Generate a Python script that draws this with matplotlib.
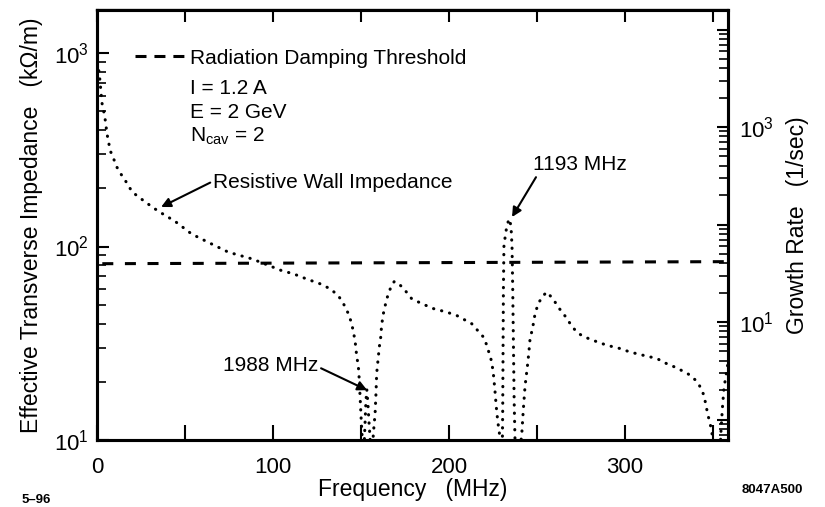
import numpy as np
import matplotlib.pyplot as plt
from matplotlib.lines import Line2D
from matplotlib.ticker import MultipleLocator, FixedLocator, LogLocator, FuncFormatter, NullFormatter

plt.rcParams['font.family'] = ['Liberation Sans', 'DejaVu Sans']
plt.rcParams['mathtext.fontset'] = 'custom'
plt.rcParams['mathtext.rm'] = 'Liberation Sans'
plt.rcParams['mathtext.it'] = 'Liberation Sans'
plt.rcParams['mathtext.default'] = 'regular'

# impedancia efectiva (kOhm/m) vs frecuencia (MHz)
freq = [1.0, 1.7, 2.3, 2.8, 3.6, 4.4, 5.7, 6.6, 7.5, 9.5, 11.4, 14.2, 16.1, 19.9, 22.7,
        27.4, 32.2, 36.0, 39.8, 44.3, 53.8, 63.3, 74.6, 87.9, 97.3, 105, 111.5, 119,
        126.7, 132.4, 137, 140, 142.8, 144.7, 146.6, 147.5, 148.5, 149.0, 149.5, 150.0,
        150.5, 151.0,
        # pico 1988 MHz
        151.8, 152.3, 152.8, 153.3, 153.9, 154.5, 155.2, 155.8,
        156.5, 157, 158, 158.5, 158.9, 159.8, 160.4, 161.2, 161.7, 162.7, 164.2, 165.5,
        167, 168.9, 171.5, 174, 178.8, 184.5, 191, 198.7, 204.4, 212.9, 219.5, 221.4,
        224.3, 225.3, 226.1, 226.8, 227.5, 228.2, 229.0, 229.6,
        # pico 1193 MHz
        230.2, 230.5, 230.7, 230.9, 231.2, 232.2, 233.2, 234.2, 235.2, 235.8, 236.2,
        236.6, 237.0, 237.5, 238.0,
        240.3, 241.3, 242.2, 242.8, 243.2, 244.5, 245.3, 246.0, 247.6, 248.9, 250.7,
        253, 255.5, 258, 260.2, 262.5, 265, 268.8, 272.5, 276.3, 282, 289.6, 297.2,
        302.8, 310.4, 318, 323.7, 329.4, 336, 339.8, 342.2, 344.5, 345.8, 346.9, 348.3,
        349.2, 350.2, 351.0,
        353.8, 354.5, 355.3, 356.2, 357.5, 358.5]
impedance = [810, 717, 622, 552, 510, 470, 381, 345, 313, 283, 256, 232, 219, 192, 183,
             170, 158, 150, 143, 135, 116, 105, 93.5, 86.4, 80, 75, 72.3, 68,
             64.2, 60.5, 55.9, 50.7, 45, 40, 32.7, 27.4, 23.9, 20.5, 16.5, 13.3,
             11, 9,
             9.5, 12.5, 16, 18.2, 15.5, 12.5, 10, 8.5,
             8.5, 10.8, 13.7, 17.4, 22.1, 26.8, 30.3, 34, 39.2, 45, 51.7, 57,
             61.7, 66, 64, 61, 53.7, 50.7, 47.8, 45.8, 44, 39.9, 34.1, 31,
             25.3, 21.5, 18, 15, 13, 11.5, 10.3, 8,
             8, 14, 30, 60, 100, 118, 131, 139, 128, 100, 60,
             30, 16, 10, 8,
             9, 10.6, 14.3, 17, 19, 23.9, 28, 33, 38.4, 45, 50.7,
             55, 58.2, 55, 51.7, 48, 45, 40, 36.1, 34.3, 32.7, 30.9, 29.7,
             28.5, 27.4, 26.4, 24.8, 23.6, 21.9, 20.5, 19.2, 17.3, 15.5, 13.7, 12.2,
             11.2, 9.5, 8,
             8, 11, 14.5, 18.5, 22, 25]

# umbral de amortiguamiento por radiacion
thresh_freq = [3, 357]
thresh_imp = [81.5, 83.5]

fig = plt.figure(figsize=(8.25, 5.07), dpi=100)
ax = fig.add_axes([0.1176, 0.1321, 0.7648, 0.8481])

ax.plot(freq, impedance, color='black', lw=2.2, ls=(0, (0.1, 2.6)),
        dash_capstyle='round')
ax.plot(thresh_freq, thresh_imp, color='black', lw=2.2, ls=(0, (3.6, 3.8)))

ax.set_yscale('log')
ax.set_xlim(0, 358.5)
ax.set_ylim(10, 1667)

ax.xaxis.set_major_locator(MultipleLocator(100))
ax.xaxis.set_minor_locator(MultipleLocator(50))
ax.tick_params(axis='x', which='both', direction='in', length=11, width=1.5,
               top=False, labelsize=16, pad=12)
ax.tick_params(axis='y', which='major', direction='in', length=8.6, width=1.5,
               right=False, labelsize=16, pad=6)
ax.tick_params(axis='y', which='minor', direction='in', length=6.5, width=1.2,
               right=False)
for s in ax.spines.values():
    s.set_linewidth(2.2)

# ticks arriba
secax = ax.secondary_xaxis('top')
secax.xaxis.set_major_locator(MultipleLocator(50))
secax.tick_params(direction='in', length=8.5, width=1.5, labeltop=False)
secax.spines['top'].set_linewidth(1.6)

# eje derecho: tasa de crecimiento
ax2 = ax.twinx()
ax2.set_yscale('log')
ax2.set_ylim(0.616, 15850)
ax2.yaxis.set_major_locator(FixedLocator([1, 10, 100, 1000, 10000]))
ax2.yaxis.set_major_formatter(FuncFormatter(
    lambda v, p: '$10^1$' if np.isclose(v, 10) else ('$10^3$' if np.isclose(v, 1000) else '')))
ax2.yaxis.set_minor_locator(LogLocator(base=10, subs=np.arange(2, 10), numticks=20))
ax2.yaxis.set_minor_formatter(NullFormatter())
ax2.tick_params(axis='y', which='major', direction='in', length=8, width=1.5,
                labelsize=16, pad=8)
ax2.tick_params(axis='y', which='minor', direction='in', length=6.5, width=1.2)
for s in ax2.spines.values():
    s.set_linewidth(2.2)

ax.set_xlabel('Frequency   (MHz)', fontsize=16.5, labelpad=0)
ax.set_ylabel('Effective Transverse Impedance   (k\u03a9/m)', fontsize=16.5, labelpad=8)
ax2.set_ylabel('Growth Rate   (1/sec)', fontsize=16.5, labelpad=9)

# leyenda
h = Line2D([], [], color='black', lw=2.2, ls=(0, (3.6, 2.6)))
ax.legend([h], ['Radiation Damping Threshold'], loc='center left',
          bbox_to_anchor=(0.060, 0.888), frameon=False, fontsize=15,
          handlelength=2.4, handletextpad=0.25, borderpad=0, borderaxespad=0)

ax.text(0.147, 0.804, 'I = 1.2 A', transform=ax.transAxes, fontsize=15, va='baseline')
ax.text(0.147, 0.749, 'E = 2 GeV', transform=ax.transAxes, fontsize=15, va='baseline')
ax.text(0.147, 0.694, 'N$_{cav}$ = 2', transform=ax.transAxes, fontsize=15, va='baseline')

arrow = dict(arrowstyle='-|>', color='black', lw=1.5, mutation_scale=14,
             shrinkA=0, shrinkB=0)
ax.annotate('Resistive Wall Impedance', xy=(36.4, 160), xytext=(65.9, 215),
            ha='left', va='center', fontsize=15,
            arrowprops=dict(arrow, relpos=(0, 0.55)))
ax.annotate('1193 MHz', xy=(235.8, 142), xytext=(247.7, 264),
            ha='left', va='center', fontsize=15,
            arrowprops=dict(arrow, relpos=(0.05, 0)))
ax.annotate('1988 MHz', xy=(153.5, 18.1), xytext=(71.6, 24.4),
            ha='left', va='center', fontsize=15,
            arrowprops=dict(arrow, relpos=(1, 0.4)))

fig.text(22 / 825, 1 - 500 / 507, '5\u201396', fontsize=9.5, fontweight='bold', va='center')
fig.text(742 / 825, 1 - 490 / 507, '8047A500', fontsize=9.5, fontweight='bold', va='center')

fig.savefig('out.png', dpi=100)
